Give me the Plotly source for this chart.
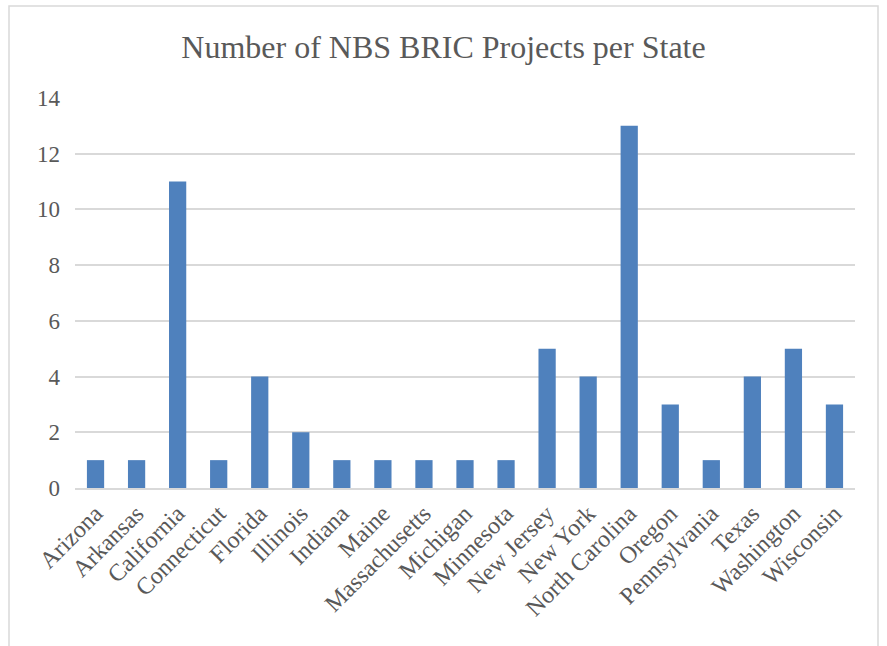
import plotly.graph_objects as go

states = ["Arizona", "Arkansas", "California", "Connecticut", "Florida", "Illinois",
          "Indiana", "Maine", "Massachusetts", "Michigan", "Minnesota", "New Jersey",
          "New York", "North Carolina", "Oregon", "Pennsylvania", "Texas",
          "Washington", "Wisconsin"]
projects = [1, 1, 11, 1, 4, 2, 1, 1, 1, 1, 1, 5, 4, 13, 3, 1, 4, 5, 3]

W, H = 887, 646
L, R, T, B = 75, 32, 98, 158
pw, ph = W - L - R, H - T - B

fig = go.Figure(go.Bar(x=states, y=projects, marker_color="#4F81BD",
                       marker_line_width=0))

fig.update_layout(
    width=W, height=H,
    margin=dict(l=L, r=R, t=T, b=B),
    paper_bgcolor="white", plot_bgcolor="white",
    bargap=0.58,
    font=dict(family="Liberation Serif, DejaVu Serif, serif", color="#595959", size=23),
    title=dict(text="Number of NBS BRIC Projects per State", x=0.5, xanchor="center",
               y=1 - 47 / H, yanchor="middle",
               font=dict(size=32, color="#595959")),
    xaxis=dict(tickangle=-45, showgrid=False, showline=True, linecolor="#D9D9D9",
               linewidth=2, ticks="", tickfont=dict(size=24)),
    yaxis=dict(range=[0, 14], dtick=2, showgrid=True, gridcolor="#D9D9D9",
               gridwidth=1.5, zeroline=False, showline=False, ticks="",
               ticklabelstandoff=14, tickfont=dict(size=23)),
    showlegend=False,
)

fig.add_shape(type="rect", xref="paper", yref="paper",
              x0=(9 - L) / pw, x1=(878 - L) / pw,
              y0=(H - B - 660) / ph, y1=(H - B - 6) / ph,
              line=dict(color="#D9D9D9", width=1.5), fillcolor="rgba(0,0,0,0)",
              layer="below")

fig.write_html("out.html", config={"displayModeBar": False},
               post_script="document.body.style.margin='0';document.body.style.overflow='hidden';")
